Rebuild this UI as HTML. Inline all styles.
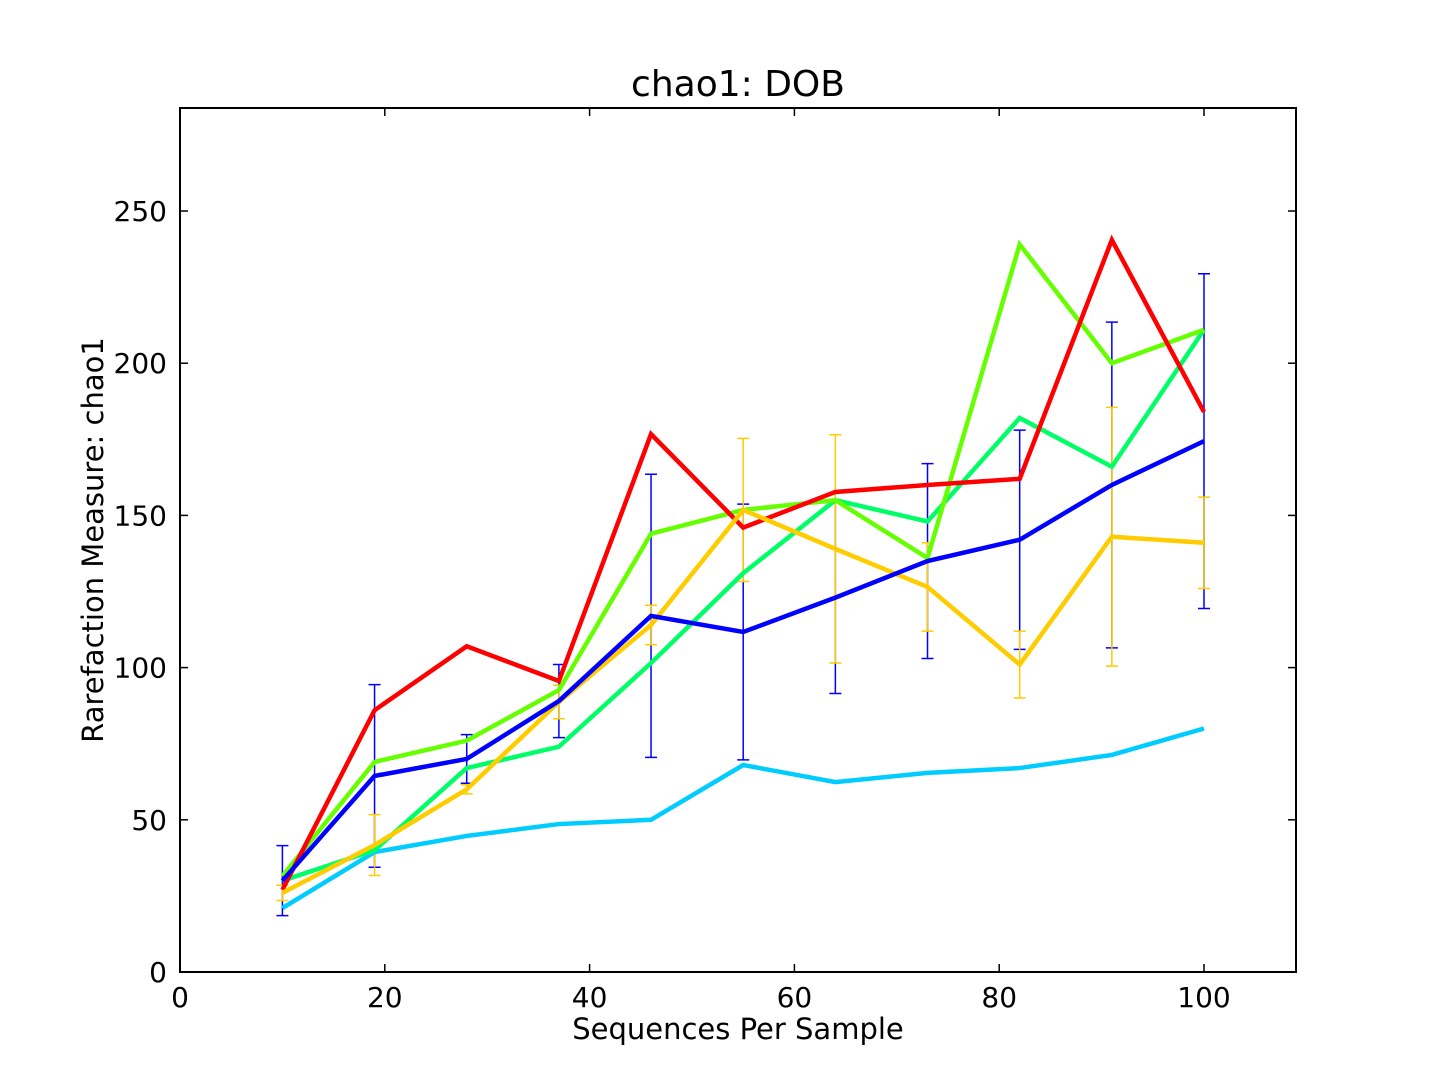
<!DOCTYPE html>
<html><head><meta charset="utf-8"><style>
body{margin:0;background:#fff;}
svg text{font-family:"DejaVu Sans","Liberation Sans",sans-serif;fill:#000;}
</style></head><body>
<svg id="chart" width="1440" height="1080" xmlns="http://www.w3.org/2000/svg">
<rect width="1440" height="1080" fill="#fff"/>
<text x="738" y="96" font-size="36" text-anchor="middle">chao1: DOB</text>
<text x="738" y="1039" font-size="29" text-anchor="middle">Sequences Per Sample</text>
<text transform="translate(103,540) rotate(-90)" font-size="29" text-anchor="middle">Rarefaction Measure: chao1</text>
<g id="plot"></g>
<rect x="180" y="108" width="1116" height="864" fill="none" stroke="#000" stroke-width="2"/>
</svg>
<script>
const xs=[10,19,28,37,46,55,64,73,82,91,100];
const xTicks=[0,20,40,60,80,100];
const yTicks=[0,50,100,150,200,250];
const redVals=[27,86,107,95.6,176.7,146,157.7,160,162,240.5,184];
const limeVals=[31.5,69,76,92.6,144,151.8,155,136,239,200,211];
const springVals=[30,40,67,74,101.5,131,155,148,182,166,211];
const blueVals=[30,64.4,70,89,117,111.7,123,135,142,160,174.4];
const blueErr=[11.5,30,8,12,46.5,42,31.5,32,36,53.5,55];
const yellowVals=[26,41.7,60,88.7,114,151.8,139,126.5,101,143,141];
const yellowErr=[2.5,10,1.5,5.5,6.5,23.5,37.5,14.5,11,42.5,15];
const cyanVals=[21,39.4,44.7,48.6,50,68,62.4,65.4,67,71.3,80];
const X=v=>180+v*10.24, Y=v=>972-v*3.044;
const NS='http://www.w3.org/2000/svg';
const g=document.getElementById('plot');
function mk(t,a){const e=document.createElementNS(NS,t);for(const k in a)e.setAttribute(k,a[k]);g.appendChild(e);return e;}
xTicks.forEach(t=>{
 const l=mk('line',{x1:X(t),x2:X(t),y1:972,y2:964,stroke:'#000','stroke-width':1.5});
 
 
 const l2=mk('line',{x1:X(t),x2:X(t),y1:108,y2:116,stroke:'#000','stroke-width':1.5});
 
 
 const tx=mk('text',{x:X(t),y:1007,'font-size':28,'text-anchor':'middle'});tx.textContent=t;
 
 
});
yTicks.forEach(t=>{
 const l=mk('line',{x1:180,x2:188,y1:Y(t),y2:Y(t),stroke:'#000','stroke-width':1.5});
 
 
 const l2=mk('line',{x1:1296,x2:1288,y1:Y(t),y2:Y(t),stroke:'#000','stroke-width':1.5});
 
 
 const tx=mk('text',{x:167,y:Y(t)+10,'font-size':28,'text-anchor':'end'});tx.textContent=t;
 
 
});
function err(vals,errs,c,name){
 vals.forEach((v,i)=>{
  const x=X(xs[i]),a=Y(v+errs[i]),b=Y(v-errs[i]);
  const e=mk('path',{d:`M${x},${a}V${b}M${x-6},${a}H${x+6}M${x-6},${b}H${x+6}`,stroke:c,'stroke-width':1.5,fill:'none'});
  
  
 });
}
function line(vals,c,name){
 const p=mk('polyline',{points:vals.map((v,i)=>X(xs[i])+','+Y(v)).join(' '),stroke:c,'stroke-width':4.5,fill:'none','stroke-linejoin':'miter'});
 
 
}
err(blueVals,blueErr,'#0000ff','blue-error-bar');
err(yellowVals,yellowErr,'#ffcc00','yellow-error-bar');
line(cyanVals,'#00ccff','cyan-series');
line(springVals,'#00ff66','spring-green-series');
line(limeVals,'#66ff00','lime-series');
line(redVals,'#ff0000','red-series');
line(yellowVals,'#ffcc00','yellow-series');
line(blueVals,'#0000ff','blue-series');
</script>
</body></html>
